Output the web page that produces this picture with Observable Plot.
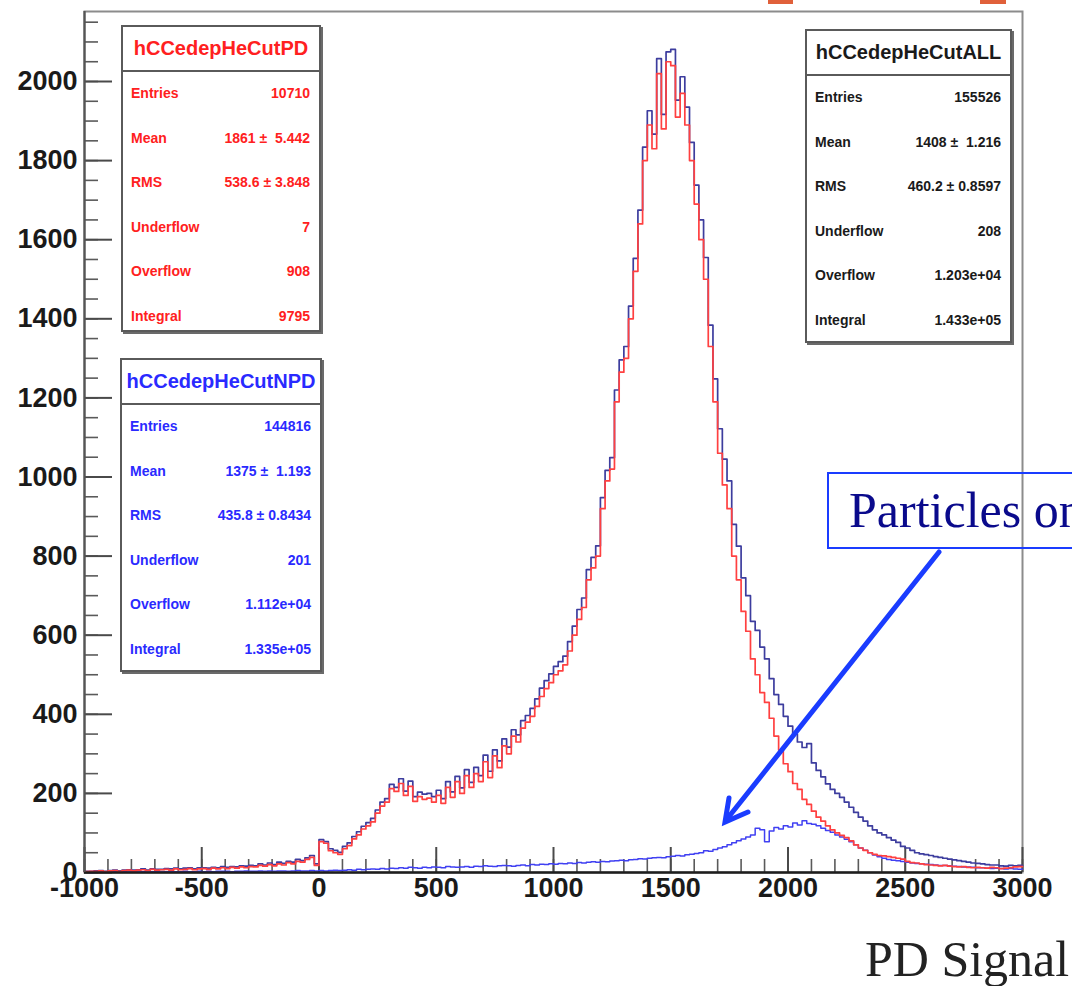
<!DOCTYPE html>
<html>
<head>
<meta charset="utf-8">
<script src="https://cdn.jsdelivr.net/npm/d3@7"></script>
<script src="https://cdn.jsdelivr.net/npm/@observablehq/plot@0.6"></script>
<style>
  html, body { margin: 0; padding: 0; background: #fff; overflow: hidden; }
  #wrap { position: relative; width: 1072px; height: 986px; overflow: hidden; }
  #wrap svg.plot { position: absolute; left: 0; top: 0; }
  .stat { position: absolute; border: 2px solid #5a5a5a; box-shadow: 2px 2px 0 #6a6a6a; background: #fff;
          font-family: "Liberation Sans", Arial, sans-serif; box-sizing: border-box; }
  .stat .ttl { position: absolute; left: 0; right: 0; top: 0; height: 43px; border-bottom: 2px solid #5a5a5a;
               display: flex; align-items: center; justify-content: center; font-weight: bold; font-size: 20px; white-space: nowrap; }
  .stat .row { position: absolute; left: 8px; right: 9px; height: 20px; margin-top: -10px; display: flex;
               justify-content: space-between; align-items: center; font-weight: bold; font-size: 14px; white-space: pre; }
  .note { position: absolute; left: 827px; top: 472px; width: 300px; height: 77px; border: 2px solid #1a3cff; box-sizing: border-box;
          font-family: "Liberation Serif", "Times New Roman", serif; font-size: 50px; color: #0a0a8c; white-space: nowrap;
          padding-left: 20px; line-height: 73px; }
  .caption { position: absolute; left: 865px; top: 930px; font-family: "Liberation Serif", "Times New Roman", serif;
             font-size: 50px; color: #222; white-space: nowrap; }
  .topmark { position: absolute; top: 0; height: 4px; background: #e0603a; }
</style>
</head>
<body>
<div id="wrap"></div>
<script>
// ---- data ----
const binWidth = 20;
const binStarts = d3.range(-1000, 3000, binWidth); // 200 bins, -1000 .. 2980

// red histogram (main peak)
const redCounts = [
  2,3,3,4,2,4,5,3,5,6,
  4,6,7,5,8,6,7,8,6,9,
  7,8,10,7,9,10,8,11,9,12,
  10,13,11,14,12,15,14,18,16,20,
  17,22,19,25,22,28,26,33,38,18,
  78,74,55,50,46,60,68,85,95,110,
  118,128,150,168,178,212,205,225,195,218,
  180,192,185,188,178,195,175,215,190,230,
  200,245,215,250,230,280,240,295,265,320,
  300,345,330,365,380,395,420,445,465,480,
  500,510,525,560,600,640,670,740,770,800,
  920,990,1020,1190,1265,1300,1400,1520,1640,1800,
  1890,1830,2020,1880,2050,2040,1910,1970,1890,1800,
  1690,1600,1500,1330,1190,1060,980,920,800,740,
  660,610,540,500,455,430,390,345,310,275,
  255,225,210,185,172,155,140,130,118,108,
  100,94,88,80,70,62,56,50,46,43,
  42,40,38,36,34,28,25,24,22,20,
  19,18,17,18,16,15,14,15,13,12,
  13,12,11,13,12,10,11,12,14,15
];

// light-blue histogram (small bump)
const blueCounts = [
  1,0,1,2,1,1,2,1,2,1,
  2,1,2,1,2,2,1,2,3,2,
  2,3,2,2,3,2,3,2,3,3,
  3,2,3,3,4,3,3,4,3,4,
  3,4,4,3,4,5,4,4,5,4,
  5,4,5,6,5,6,7,6,8,7,
  8,9,8,10,9,11,10,12,11,13,
  12,11,13,12,14,13,12,15,14,13,
  14,15,13,16,15,17,16,15,17,18,
  17,16,18,19,17,20,19,21,20,22,
  21,23,22,24,23,25,24,26,27,26,
  28,27,29,30,31,30,32,33,35,34,
  36,37,38,37,40,41,43,42,45,46,
  48,50,55,54,58,62,65,70,75,80,
  85,90,95,112,108,78,105,114,110,118,
  115,125,120,131,124,122,118,112,106,102,
  95,90,84,78,70,62,56,50,44,40,
  36,33,31,30,28,26,24,23,22,21,
  20,19,18,18,17,16,15,14,14,13,
  12,12,11,10,11,10,9,10,9,8
];

// dark navy histogram (ALL)
const allCounts = [
  3,3,4,5,3,5,6,4,6,7,
  6,7,9,6,9,8,8,10,9,11,
  9,11,12,9,12,12,11,13,12,15,
  13,15,14,17,16,18,17,22,19,24,
  20,26,23,28,26,33,30,37,43,22,
  83,78,60,56,51,66,75,91,103,117,
  126,137,158,178,187,223,215,237,206,231,
  192,203,198,200,192,208,187,230,204,243,
  214,260,228,266,245,297,256,310,282,338,
  317,361,348,384,397,415,439,466,485,502,
  521,533,547,584,623,665,694,766,797,826,
  948,1017,1049,1220,1296,1330,1432,1553,1675,1834,
  1926,1867,2058,1917,2075,2081,1953,2012,1935,1846,
  1738,1650,1555,1384,1248,1122,1045,990,880,825,
  745,700,635,612,570,540,490,450,425,395,
  370,350,330,316,326,277,258,242,224,210,
  200,190,178,165,152,140,130,118,108,100,
  95,88,82,76,66,62,56,50,47,45,
  43,40,38,36,34,32,30,28,26,24,
  23,22,20,19,19,17,16,18,17,18
];

const xMajorTicks = [-1000, -500, 0, 500, 1000, 1500, 2000, 2500, 3000];
const xMinorTicks = d3.range(-1000, 3001, 100);
const yMajorTicks = [0, 200, 400, 600, 800, 1000, 1200, 1400, 1600, 1800, 2000];
const yMinorTicks = d3.range(0, 2177, 50);

const statLabels = ["Entries", "Mean", "RMS", "Underflow", "Overflow", "Integral"];
const statsPD  = ["10710", "1861 \u00b1  5.442", "538.6 \u00b1 3.848", "7", "908", "9795"];
const statsNPD = ["144816", "1375 \u00b1  1.193", "435.8 \u00b1 0.8434", "201", "1.112e+04", "1.335e+05"];
const statsALL = ["155526", "1408 \u00b1  1.216", "460.2 \u00b1 0.8597", "208", "1.203e+04", "1.433e+05"];

// ---- build ----
function steps(counts) {
  const pts = binStarts.map((x, i) => ({x, v: counts[i]}));
  pts.push({x: binStarts[binStarts.length - 1] + binWidth, v: counts[counts.length - 1]});
  return pts;
}

const W = 1072, H = 986, mL = 84, mR = 50, mT = 11, mB = 114;
const innerW = W - mL - mR, innerH = H - mT - mB;
const plain = d => String(d);

const chart = Plot.plot({
  width: W, height: H,
  marginLeft: mL, marginRight: mR, marginTop: mT, marginBottom: mB,
  x: {domain: [-1000, 3000]},
  y: {domain: [0, 2177]},
  style: {fontFamily: "'Liberation Sans', Arial, sans-serif", background: "transparent", overflow: "visible"},
  marks: [
    Plot.frame({stroke: "#8c8c8c", strokeWidth: 2}),
    Plot.tickY(yMinorTicks, {y: d => d, stroke: "#5a5a5a", strokeWidth: 1.6, insetRight: innerW - 14}),
    Plot.tickY(yMajorTicks, {y: d => d, stroke: "#4a4a4a", strokeWidth: 2, insetRight: innerW - 28}),
    Plot.tickX(xMinorTicks, {x: d => d, stroke: "#5a5a5a", strokeWidth: 1.6, insetTop: innerH - 13}),
    Plot.tickX(xMajorTicks, {x: d => d, stroke: "#4a4a4a", strokeWidth: 2, insetTop: innerH - 25}),
    Plot.lineY(steps(allCounts), {x: "x", y: "v", curve: "step-after", stroke: "#3d3d9e", strokeWidth: 1.7}),
    Plot.lineY(steps(blueCounts), {x: "x", y: "v", curve: "step-after", stroke: "#4040f2", strokeWidth: 1.5}),
    Plot.lineY(steps(redCounts), {x: "x", y: "v", curve: "step-after", stroke: "#ff4040", strokeWidth: 1.7}),
    Plot.ruleY([0], {stroke: "#1e1e1e", strokeWidth: 2.6}),
    Plot.ruleX([-1000], {stroke: "#555", strokeWidth: 2.2}),
    Plot.axisY(yMajorTicks, {tickSize: 0, tickPadding: 7, fontSize: 27, fontWeight: "bold", fill: "#1a1a1a", label: null, tickFormat: plain}),
    Plot.axisX(xMajorTicks, {tickSize: 0, tickPadding: 5, fontSize: 27, fontWeight: "bold", fill: "#1a1a1a", label: null, tickFormat: plain})
  ]
});
chart.classList.add("plot");
const wrap = document.getElementById("wrap");
wrap.appendChild(chart);

// stats boxes
function statBox(left, top, w, h, title, values, color) {
  const box = document.createElement("div");
  box.className = "stat";
  Object.assign(box.style, {left: left + "px", top: top + "px", width: w + "px", height: h + "px", color});
  const t = document.createElement("div");
  t.className = "ttl";
  t.textContent = title;
  box.appendChild(t);
  statLabels.forEach((lab, i) => {
    const r = document.createElement("div");
    r.className = "row";
    r.style.top = (66 + 44.6 * i) + "px";
    const a = document.createElement("span"); a.textContent = lab;
    const b = document.createElement("span"); b.textContent = values[i];
    r.appendChild(a); r.appendChild(b);
    box.appendChild(r);
  });
  wrap.appendChild(box);
}
statBox(121, 25, 200, 307, "hCCedepHeCutPD", statsPD, "#ff2020");
statBox(120, 358, 202, 314, "hCCedepHeCutNPD", statsNPD, "#2a2aff");
statBox(805, 29, 207, 314, "hCCedepHeCutALL", statsALL, "#1a1a1a");

// annotation
const note = document.createElement("div");
note.className = "note";
note.textContent = "Particles on PD";
wrap.appendChild(note);

const ns = "http://www.w3.org/2000/svg";
const arr = document.createElementNS(ns, "svg");
arr.setAttribute("width", W); arr.setAttribute("height", H);
arr.style.position = "absolute"; arr.style.left = "0"; arr.style.top = "0"; arr.style.pointerEvents = "none";
arr.innerHTML = '<line x1="939" y1="552" x2="727" y2="819" stroke="#1a3cff" stroke-width="5" stroke-linecap="round"/>' +
  '<polyline points="729,798 725,822 748,812" fill="none" stroke="#1a3cff" stroke-width="5" stroke-linejoin="miter" stroke-linecap="round"/>';
wrap.appendChild(arr);

const cap = document.createElement("div");
cap.className = "caption";
cap.textContent = "PD Signal";
wrap.appendChild(cap);

[[768, 25], [980, 26]].forEach(([l, w]) => {
  const m = document.createElement("div");
  m.className = "topmark";
  m.style.left = l + "px"; m.style.width = w + "px";
  wrap.appendChild(m);
});
</script>
</body>
</html>
